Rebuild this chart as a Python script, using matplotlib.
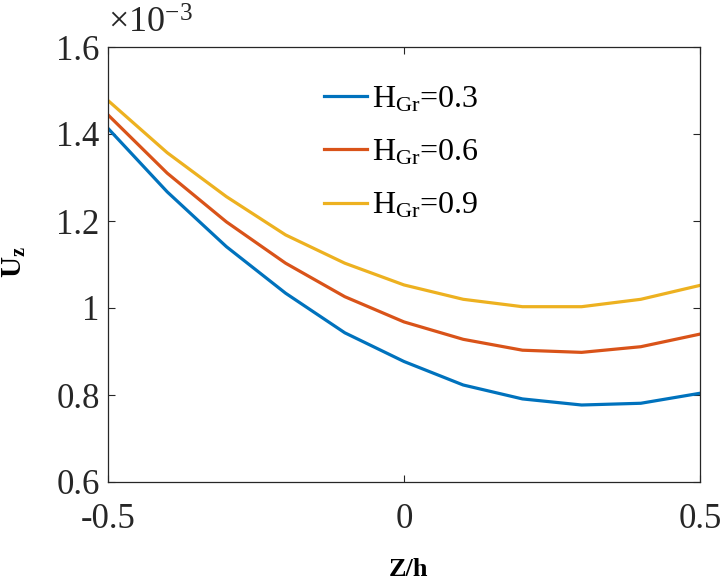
import matplotlib
matplotlib.use('Agg')
import matplotlib.pyplot as plt

plt.rcParams['font.family'] = 'Liberation Serif'
plt.rcParams['mathtext.fontset'] = 'custom'
plt.rcParams['mathtext.rm'] = 'Liberation Serif'
plt.rcParams['mathtext.it'] = 'Liberation Serif:italic'
plt.rcParams['mathtext.bf'] = 'Liberation Serif:bold'

# data (U_z in units of 1e-3)
z = [-0.5, -0.4, -0.3, -0.2, -0.1, 0.0, 0.1, 0.2, 0.3, 0.4, 0.5]
u_03 = [1.413, 1.267, 1.141, 1.034, 0.943, 0.877, 0.823, 0.791, 0.777, 0.781, 0.804]
u_06 = [1.444, 1.310, 1.198, 1.103, 1.026, 0.968, 0.928, 0.903, 0.898, 0.911, 0.940]
u_09 = [1.477, 1.357, 1.256, 1.168, 1.103, 1.053, 1.020, 1.003, 1.003, 1.020, 1.052]
labels = [r'H$_{\mathrm{Gr}}$=0.3', r'H$_{\mathrm{Gr}}$=0.6', r'H$_{\mathrm{Gr}}$=0.9']
colors = ['#0072BD', '#D95319', '#EDB120']

fig = plt.figure(figsize=(7.22, 5.79), dpi=100)
ax = fig.add_axes([108 / 722, 1 - 482 / 579, 592 / 722, 435 / 579])

for ys, lab, c in zip([u_03, u_06, u_09], labels, colors):
    ax.plot(z, ys, color=c, linewidth=2.3, label=lab)

ax.set_xlim(-0.5, 0.5)
ax.set_ylim(0.6, 1.6)
ax.set_xticks([-0.5, 0, 0.5])
ax.set_xticklabels(['-0.5', '0', '0.5'])
ax.set_yticks([0.6, 0.8, 1.0, 1.2, 1.4, 1.6])
ax.set_yticklabels(['0.6', '0.8', '1', '1.2', '1.4', '1.6'])

ax.tick_params(direction='in', length=5, width=0.8, color='#262626',
               labelsize=25, labelcolor='#262626', top=True, right=True)
ax.tick_params(axis='x', pad=15)
ax.tick_params(axis='y', pad=6)
for s in ax.spines.values():
    s.set_color('#262626')
    s.set_linewidth(0.9)

ax.text(0.0, 1.015, r'$\times$10$^{\mathrm{-3}}$', transform=ax.transAxes,
        fontsize=26, color='#262626', ha='left', va='bottom')

fig.text(408 / 722, 1 - 569 / 579, 'Z/h', fontsize=19, fontweight='bold',
         ha='center', va='center')
fig.text(1 / 722, 1 - 262 / 579, r'$\mathbf{U_z}$', fontsize=21, rotation=90,
         ha='left', va='center')

ax.legend(loc='upper left', bbox_to_anchor=(0.343, 0.943), frameon=False,
          fontsize=23, handlelength=1.35, handletextpad=0.15, labelspacing=0.75,
          borderaxespad=0)

fig.savefig('out.png', dpi=100)
